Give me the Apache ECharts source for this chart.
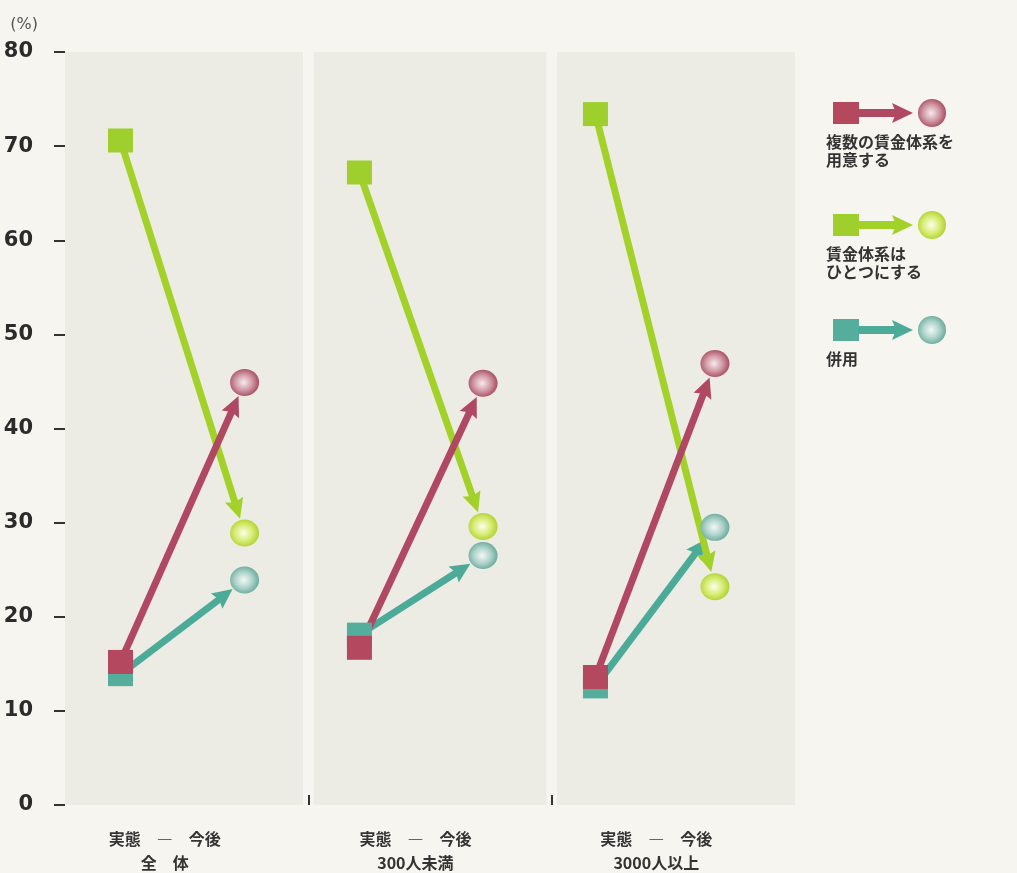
<!DOCTYPE html>
<html>
<head>
<meta charset="utf-8">
<script src="https://cdn.jsdelivr.net/npm/echarts@6/dist/echarts.min.js"></script>
<style>
html,body{margin:0;padding:0;background:#f6f5ef;}
#chart{width:1017px;height:873px;}
</style>
</head>
<body>
<div id="chart"></div>
<script>
// ---- data ----
const categories = ['全　体', '300人未満', '3000人以上'];
const stageLabel = '実態　―　今後';
const seriesNames = ['複数の賃金体系を\n用意する', '賃金体系は\nひとつにする', '併用'];
const fukusuNow    = [15.2, 16.7, 13.6];
const fukusuFuture = [44.9, 44.8, 46.9];
const hitotsuNow    = [70.6, 67.2, 73.4];
const hitotsuFuture = [28.9, 29.6, 23.2];
const heiyoNow    = [13.9, 18.1, 12.6];
const heiyoFuture = [23.9, 26.5, 29.5];
const yTicks = [0, 10, 20, 30, 40, 50, 60, 70, 80];

// ---- layout (positions within each panel on the x scale) ----
const X_NOW = [0.228, 1.210, 2.180];
const X_FUT = [0.738, 1.718, 2.671];
const LABEL_X = [0.41, 1.44, 2.43];
const PANELS = [[0, 0.978], [1.022, 1.978], [2.022, 3]];

const COLORS = {
  red:   {line: '#b04862', sq: '#b3485f', grad: ['#f8eaee', '#cf97a3', '#a5465b']},
  green: {line: '#a2d12a', sq: '#9ecf2c', grad: ['#fcfeec', '#d8ec76', '#acd02a']},
  teal:  {line: '#4cab98', sq: '#55ae9c', grad: ['#f4f8f6', '#add2c9', '#63a799']}
};
function radial(c) {
  return {type: 'radial', x: 0.47, y: 0.5, r: 0.55,
    colorStops: [{offset: 0, color: c[0]}, {offset: 0.55, color: c[1]}, {offset: 1, color: c[2]}]};
}

function arrowRender(color) {
  return function (params, api) {
    const i = params.dataIndex;
    const p1 = api.coord([X_NOW[i], api.value(1)]);
    const p2 = api.coord([X_FUT[i], api.value(2)]);
    const dx = p2[0] - p1[0], dy = p2[1] - p1[1];
    const L = Math.hypot(dx, dy);
    const ux = dx / L, uy = dy / L, nx = -uy, ny = ux;
    const R = 15, HL = 20, HW = 9.5, NOTCH = 3;
    const tip = [p2[0] - ux * R, p2[1] - uy * R];
    const base = [tip[0] - ux * HL, tip[1] - uy * HL];
    return {
      type: 'group',
      children: [
        {type: 'line', shape: {x1: p1[0], y1: p1[1], x2: base[0] + ux * (NOTCH + 2), y2: base[1] + uy * (NOTCH + 2)},
          style: {stroke: color, lineWidth: 7}},
        {type: 'polygon', shape: {points: [
          tip,
          [base[0] + nx * HW, base[1] + ny * HW],
          [base[0] + ux * NOTCH, base[1] + uy * NOTCH],
          [base[0] - nx * HW, base[1] - ny * HW]
        ]}, style: {fill: color}}
      ]
    };
  };
}

function rows(now, fut) { return categories.map((c, i) => [i, now[i], fut[i]]); }
function squares(now) { return now.map((v, i) => [X_NOW[i], v]); }
function circles(fut) { return fut.map((v, i) => [X_FUT[i], v]); }

const chart = echarts.init(document.getElementById('chart'));

function legendItem(y, c, text) {
  return [
    {type: 'rect', shape: {x: 833, y: y - 11, width: 26, height: 22}, style: {fill: c.sq}},
    {type: 'line', shape: {x1: 858, y1: y, x2: 898, y2: y}, style: {stroke: c.line, lineWidth: 8}},
    {type: 'polygon', shape: {points: [[913, y], [892, y - 10], [896, y], [892, y + 10]]}, style: {fill: c.line}},
    {type: 'circle', shape: {cx: 932, cy: y, r: 14}, style: {fill: radial(c.grad)}},
    {type: 'text', x: 826, y: y + 20, style: {text: text, fill: '#333', font: 'bold 16px "Noto Sans CJK JP"', lineHeight: 18}}
  ];
}

const option = {
  backgroundColor: '#f6f5ef',
  animation: false,
  grid: {left: 65, right: 222, top: 52, bottom: 68, outerBoundsMode: 'none', containLabel: false},
  xAxis: {
    type: 'value', min: 0, max: 3,
    splitLine: {show: false},
    axisLine: {show: false},
    axisTick: {show: true, inside: true, length: 10, customValues: [1, 2], lineStyle: {color: '#333', width: 2}},
    axisLabel: {
      customValues: LABEL_X,
      formatter: function (v) { return stageLabel + '\n' + categories[Math.floor(v)]; },
      margin: 22, lineHeight: 24, fontSize: 16, fontWeight: 'bold', color: '#333',
      fontFamily: 'Noto Sans CJK JP'
    }
  },
  yAxis: {
    type: 'value', min: 0, max: 80, interval: 10, offset: 4,
    name: '(%)', nameLocation: 'end', nameGap: 27,
    nameTextStyle: {fontSize: 16, color: '#555', align: 'right', verticalAlign: 'middle', padding: [0, 27, 0, 0], fontFamily: 'DejaVu Sans'},
    splitLine: {show: false},
    axisLine: {show: false},
    axisTick: {show: true, length: 11, lineStyle: {color: '#333', width: 2}},
    axisLabel: {margin: 28, fontSize: 21, fontWeight: 'bold', color: '#2b2b2b', fontFamily: 'DejaVu Sans',
      customValues: yTicks}
  },
  graphic: [].concat(
    legendItem(113, COLORS.red, seriesNames[0]),
    legendItem(225, COLORS.green, seriesNames[1]),
    legendItem(330, COLORS.teal, seriesNames[2])
  ),
  series: [
    {type: 'line', data: [], z: 0, silent: true,
      markArea: {silent: true, itemStyle: {color: '#edece4'},
        data: PANELS.map(p => [{xAxis: p[0], yAxis: 0}, {xAxis: p[1], yAxis: 80}])}},
    {type: 'custom', name: seriesNames[2], z: 2, encode: {x: 0, y: [1, 2]}, renderItem: arrowRender(COLORS.teal.line), data: rows(heiyoNow, heiyoFuture)},
    {type: 'custom', name: seriesNames[1], z: 3, encode: {x: 0, y: [1, 2]}, renderItem: arrowRender(COLORS.green.line), data: rows(hitotsuNow, hitotsuFuture)},
    {type: 'custom', name: seriesNames[0], z: 4, encode: {x: 0, y: [1, 2]}, renderItem: arrowRender(COLORS.red.line), data: rows(fukusuNow, fukusuFuture)},
    {type: 'scatter', z: 5, symbol: 'rect', symbolSize: [25, 24], itemStyle: {color: COLORS.teal.sq, opacity: 1}, data: squares(heiyoNow)},
    {type: 'scatter', z: 5, symbol: 'rect', symbolSize: [25, 24], itemStyle: {color: COLORS.green.sq, opacity: 1}, data: squares(hitotsuNow)},
    {type: 'scatter', z: 6, symbol: 'rect', symbolSize: [25, 24], itemStyle: {color: COLORS.red.sq, opacity: 1}, data: squares(fukusuNow)},
    {type: 'scatter', z: 7, symbol: 'circle', symbolSize: [29, 27], itemStyle: {color: radial(COLORS.teal.grad), opacity: 1}, data: circles(heiyoFuture)},
    {type: 'scatter', z: 7, symbol: 'circle', symbolSize: [29, 27], itemStyle: {color: radial(COLORS.green.grad), opacity: 1}, data: circles(hitotsuFuture)},
    {type: 'scatter', z: 7, symbol: 'circle', symbolSize: [29, 27], itemStyle: {color: radial(COLORS.red.grad), opacity: 1}, data: circles(fukusuFuture)}
  ]
};
chart.setOption(option);
</script>
</body>
</html>
